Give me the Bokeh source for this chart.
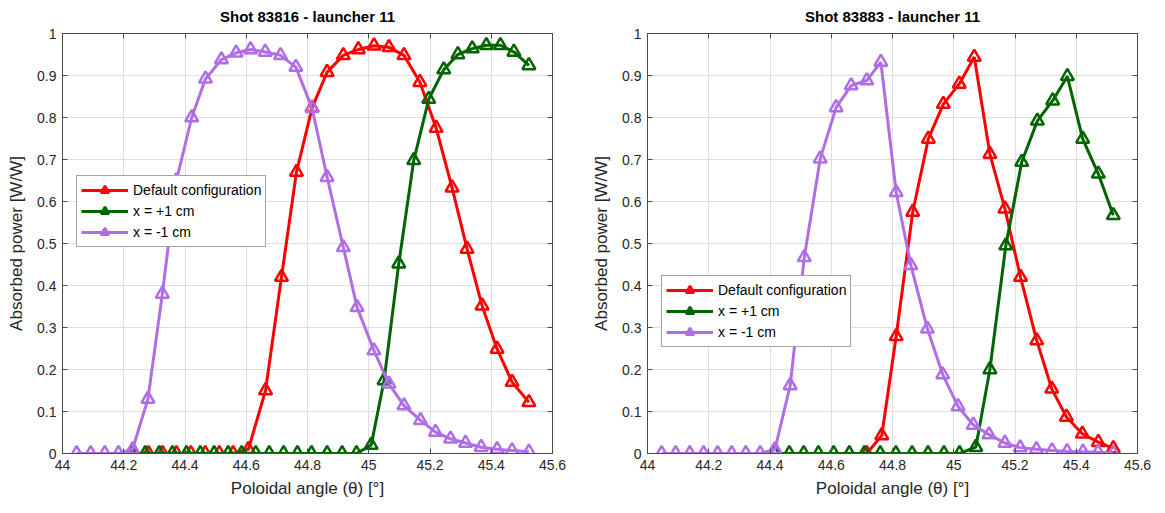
from bokeh.plotting import figure
from bokeh.layouts import row
from bokeh.models import (Range1d, LinearAxis, FixedTicker, CustomJSTickFormatter,
                          Legend, LegendItem)
from bokeh.embed import file_html
from bokeh.resources import INLINE

# ---- shot 83816, launcher 11 ----
red_x_l = [44.235, 44.281, 44.327, 44.372, 44.419, 44.466, 44.512, 44.557, 44.607,
           44.663, 44.715, 44.764, 44.815, 44.864, 44.917, 44.966, 45.017, 45.066,
           45.115, 45.167, 45.220, 45.272, 45.321, 45.370, 45.419, 45.468, 45.523]
red_y_l = [0, 0, 0, 0, 0, 0, 0, 0, 0.01,
           0.15, 0.42, 0.67, 0.823, 0.908, 0.948, 0.962, 0.971, 0.967,
           0.948, 0.884, 0.775, 0.633, 0.487, 0.352, 0.249, 0.170, 0.122]

green_x_l = [44.225, 44.270, 44.316, 44.359, 44.405, 44.450, 44.495, 44.541, 44.585,
             44.631, 44.675, 44.722, 44.767, 44.813, 44.864, 44.913, 44.960, 45.008,
             45.050, 45.098, 45.147, 45.196, 45.245, 45.291, 45.338, 45.384, 45.430,
             45.474, 45.523]
green_y_l = [0, 0, 0, 0, 0, 0, 0, 0, 0,
             0, 0, 0, 0, 0, 0, 0, 0, 0.02,
             0.174, 0.452, 0.698, 0.844, 0.914, 0.95, 0.964, 0.972, 0.972,
             0.956, 0.924]

purple_x_l = [44.046, 44.092, 44.138, 44.183, 44.229, 44.279, 44.326, 44.372, 44.422,
              44.467, 44.519, 44.567, 44.614, 44.662, 44.712, 44.762, 44.815, 44.864,
              44.917, 44.962, 45.017, 45.066, 45.115, 45.169, 45.218, 45.267, 45.316,
              45.367, 45.419, 45.468, 45.523]
purple_y_l = [0, 0, 0, 0, 0.01, 0.13, 0.38, 0.65, 0.80,
              0.892, 0.938, 0.954, 0.962, 0.956, 0.948, 0.92, 0.822, 0.658,
              0.491, 0.348, 0.245, 0.166, 0.114, 0.079, 0.051, 0.035, 0.025,
              0.015, 0.01, 0.007, 0.004]

# ---- shot 83883, launcher 11 ----
red_x_r = [44.716, 44.765, 44.812, 44.866, 44.917, 44.966, 45.018, 45.067, 45.118,
           45.167, 45.218, 45.271, 45.320, 45.368, 45.420, 45.472, 45.521]
red_y_r = [0, 0.043, 0.279, 0.575, 0.749, 0.832, 0.88, 0.944, 0.713,
           0.583, 0.42, 0.269, 0.154, 0.087, 0.047, 0.027, 0.012]

green_x_r = [44.415, 44.463, 44.510, 44.558, 44.608, 44.659, 44.708, 44.760, 44.811,
             44.864, 44.916, 44.968, 45.019, 45.072, 45.118, 45.170, 45.222, 45.273,
             45.323, 45.371, 45.421, 45.472, 45.521]
green_y_r = [0, 0, 0, 0, 0, 0, 0, 0, 0,
             0, 0, 0, 0, 0.015, 0.2, 0.495, 0.694, 0.792,
             0.84, 0.898, 0.749, 0.666, 0.567]

purple_x_r = [44.046, 44.092, 44.138, 44.183, 44.229, 44.275, 44.321, 44.368, 44.416,
              44.466, 44.512, 44.564, 44.616, 44.665, 44.716, 44.762, 44.812, 44.860,
              44.914, 44.964, 45.014, 45.064, 45.115, 45.167, 45.217, 45.270, 45.321,
              45.370, 45.422, 45.471, 45.521]
purple_y_r = [0, 0, 0, 0, 0, 0, 0, 0, 0.01,
              0.162, 0.467, 0.702, 0.824, 0.876, 0.888, 0.932, 0.622, 0.448,
              0.297, 0.188, 0.112, 0.068, 0.045, 0.025, 0.014, 0.01, 0.007,
              0.005, 0.004, 0.003, 0.001]

series_names = ["Default configuration", "x = +1 cm", "x = -1 cm"]
series_colors = ["#ff0000", "#006400", "#b06ee6"]

x_ticks = [44, 44.2, 44.4, 44.6, 44.8, 45, 45.2, 45.4, 45.6]
y_ticks = [0, 0.1, 0.2, 0.3, 0.4, 0.5, 0.6, 0.7, 0.8, 0.9, 1]

FONT = "Liberation Sans"
TEXT = "#262626"
FRAME = "#4a4a4a"

fmt_code = "return tick.toFixed(1).replace(/\\.0$/, '');"


def style_axis(ax, ticks, show_labels=True):
    ax.ticker = FixedTicker(ticks=ticks)
    ax.formatter = CustomJSTickFormatter(code=fmt_code)
    ax.major_tick_in = 5
    ax.major_tick_out = 0
    ax.minor_tick_line_color = None
    ax.axis_line_color = FRAME
    ax.major_tick_line_color = FRAME
    ax.major_label_text_font = FONT
    if show_labels:
        ax.major_label_text_color = TEXT
        ax.major_label_text_font_size = "14px"
        ax.major_label_standoff = 6
    else:
        # mirrored tick marks only, no numbers
        ax.major_label_text_color = None
        ax.major_label_text_font_size = "1px"
        ax.major_label_standoff = 0


def make_panel(title, data, legend_xy, right_border):
    p = figure(frame_width=490, frame_height=420,
               x_range=Range1d(44, 45.6), y_range=Range1d(0, 1),
               output_backend="svg", toolbar_location=None,
               min_border_left=62, min_border_right=right_border,
               min_border_top=33, min_border_bottom=60,
               background_fill_color="white", border_fill_color="white")
    p.title.text = title
    p.title.align = "center"
    p.title.vertical_align = "top"
    p.title.text_font = FONT
    p.title.text_font_size = "15px"
    p.title.text_font_style = "bold"
    p.title.text_color = "#000000"
    p.title.standoff = 13

    style_axis(p.xaxis[0], x_ticks)
    style_axis(p.yaxis[0], y_ticks)
    p.xaxis.axis_label = "Poloidal angle (θ) [°]"
    p.yaxis.axis_label = "Absorbed power [W/W]"
    for ax in (p.xaxis[0], p.yaxis[0]):
        ax.axis_label_text_font = FONT
        ax.axis_label_text_font_size = "17px"
        ax.axis_label_text_font_style = "normal"
        ax.axis_label_text_color = TEXT
    p.xaxis.axis_label_standoff = 6
    p.yaxis.axis_label_standoff = 8

    top_ax = LinearAxis()
    style_axis(top_ax, x_ticks, show_labels=False)
    p.add_layout(top_ax, "above")
    right_ax = LinearAxis()
    style_axis(right_ax, y_ticks, show_labels=False)
    p.add_layout(right_ax, "right")

    p.outline_line_color = FRAME
    p.xgrid.ticker = FixedTicker(ticks=x_ticks)
    p.ygrid.ticker = FixedTicker(ticks=y_ticks)
    for g in (p.xgrid[0], p.ygrid[0]):
        g.grid_line_color = "#dedede"
        g.grid_line_width = 1

    items = []
    for (xs, ys), name, color in zip(data, series_names, series_colors):
        ln = p.line(xs, ys, line_color=color, line_width=3)
        mk = p.scatter(xs, ys, marker="triangle", size=13, line_color=color,
                       line_width=2.5, fill_alpha=0)
        items.append(LegendItem(label=name, renderers=[ln, mk]))

    legend = Legend(items=items, location=legend_xy)
    legend.label_text_font = FONT
    legend.label_text_font_size = "14px"
    legend.label_text_color = "#000000"
    legend.border_line_color = "#4a4a4a"
    legend.border_line_width = 1
    legend.background_fill_color = "white"
    legend.background_fill_alpha = 1
    legend.padding = 4
    legend.spacing = 1
    legend.margin = 0
    legend.glyph_width = 47
    legend.glyph_height = 20
    legend.label_height = 20
    legend.label_standoff = 5
    p.add_layout(legend)
    return p


left = make_panel("Shot 83816 - launcher 11",
                  [(red_x_l, red_y_l), (green_x_l, green_y_l), (purple_x_l, purple_y_l)],
                  (14, 206), 33)
right = make_panel("Shot 83883 - launcher 11",
                   [(red_x_r, red_y_r), (green_x_r, green_y_r), (purple_x_r, purple_y_r)],
                   (14, 106), 28)

layout = row(left, right, spacing=0)
open("out.html", "w").write(file_html(layout, INLINE))
